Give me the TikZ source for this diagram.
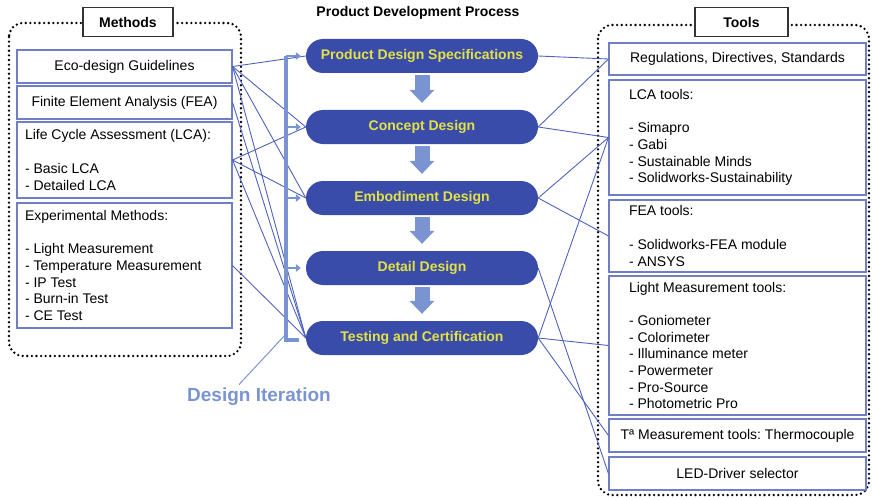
\documentclass[tikz,border=0pt]{standalone}
\usepackage{fontspec}
\setmainfont{Liberation Sans}
\usepackage{tikz}
\usetikzlibrary{positioning, arrows.meta, calc}
\frenchspacing

\definecolor{stageblue}{RGB}{58,76,170}
\definecolor{stageyellow}{RGB}{226,226,70}
\definecolor{iterblue}{RGB}{122,148,210}
\definecolor{linkblue}{RGB}{78,98,188}
\definecolor{boxblue}{RGB}{112,126,198}

\begin{document}
\begin{tikzpicture}[x=1pt, y=-1pt,
    txt/.style={font=\fontsize{14}{16.7}\selectfont},
    mbox/.style={draw=boxblue, line width=1.1pt, fill=white, txt, inner ysep=0pt},
    mcenter/.style={mbox, minimum width=215pt, inner xsep=0pt, align=center},
    mleft/.style={mbox, text width=199pt, inner xsep=8pt, align=flush left},
    tcenter/.style={mbox, minimum width=257pt, inner xsep=0pt, align=center},
    tleft/.style={mbox, text width=217pt, inner xsep=20pt, align=flush left},
    stage/.style={fill=stageblue, rounded corners=17pt, minimum width=232pt, minimum height=34pt,
        inner sep=0pt, text=stageyellow, font=\bfseries\fontsize{14}{16}\selectfont},
    panel/.style={black, line width=2.6pt, dash pattern=on 0pt off 4.6pt, line cap=round, rounded corners=14pt},
    titlebox/.style={draw=black!80, line width=1.1pt, fill=white, minimum height=29pt, inner sep=0pt,
        font=\bfseries\fontsize{14}{16}\selectfont},
    link/.style={linkblue, line width=0.9pt},
    flow/.style={iterblue, line width=15pt, shorten <=2pt, shorten >=7pt,
        -{Triangle[width=25pt, length=13pt, line width=0pt]}},
    iterbar/.style={iterblue, line width=4pt},
    iterarrow/.style={iterblue, line width=2pt, -{Triangle[width=8pt, length=5pt, line width=0pt]}}
]
    \useasboundingbox (0,0) rectangle (872,500);

    % Panels round methods and tools
    \draw[panel] (9,23) rectangle (241,356);
    \draw[panel] (598,25) rectangle (869,495);
    \node[titlebox, minimum width=90pt] (methods) at (128,22) {Methods};
    \node[titlebox, minimum width=93pt] (tools) at (741.5,22) {Tools};
    \node[font=\bfseries\fontsize{14}{16}\selectfont] (title) at (418,13) {Product Development Process};

    % Methods
    \node[mcenter, minimum height=33pt] (eco) at (124.5,66.5) {Eco-design Guidelines};
    \node[mcenter, minimum height=33pt] (fea) at (124.5,102.5) {Finite Element Analysis (FEA)};
    \node[mleft, minimum height=76pt] (lca) at (124.5,160) {Life Cycle Assessment (LCA):\\[16.7pt]
        - Basic LCA\\- Detailed LCA};
    \node[mleft, minimum height=125pt] (exper) at (124.5,265.5) {Experimental Methods:\\[16.7pt]
        - Light Measurement\\- Temperature Measurement\\- IP Test\\- Burn-in Test\\- CE Test};

    % Process stages
    \node[stage] (pds) at (422,56) {Product Design Specifications};
    \node[stage] (concept) at (422,127) {Concept Design};
    \node[stage] (embod) at (422,198) {Embodiment Design};
    \node[stage] (detail) at (422,268) {Detail Design};
    \node[stage] (testing) at (422,338) {Testing and Certification};

    \foreach \a/\b in {pds/concept, concept/embod, embod/detail, detail/testing}
        \draw[flow] (\a.south) -- (\b.north);

    % Tools
    \node[tcenter, minimum height=32pt] (reg) at (737.5,59) {Regulations, Directives, Standards};
    \node[tleft, minimum height=115pt] (lcat) at (737.5,137.5) {LCA tools:\\[16.7pt]
        - Simapro\\- Gabi\\- Sustainable Minds\\- Solidworks-Sustainability};
    \node[tleft, minimum height=72pt] (feat) at (737.5,236) {FEA tools:\\[16.7pt]
        - Solidworks-FEA module\\- ANSYS};
    \node[tleft, minimum height=139pt] (light) at (737.5,345.5) {Light Measurement tools:\\[16.7pt]
        - Goniometer\\- Colorimeter\\- Illuminance meter\\- Powermeter\\- Pro-Source\\- Photometric Pro};
    \node[tcenter, minimum height=33pt] (temp) at (737.5,435.5) {Tª Measurement tools: Thermocouple};
    \node[tcenter, minimum height=33pt] (led) at (737.5,473.5) {LED-Driver selector};

    % Methods to stages
    \foreach \m/\s in {eco/pds, eco/concept, eco/embod, eco/testing, fea/testing,
        lca/concept, lca/embod, lca/testing, exper/testing}
        \draw[link] (\m.east) -- (\s.west);

    % Stages to tools
    \foreach \s/\t in {pds/reg, concept/reg, concept/lcat, embod/lcat, embod/feat,
        testing/lcat, testing/light, testing/temp, detail/led}
        \draw[link] (\s.east) -- (\t.west);

    % Design iteration bracket
    \coordinate (bartop) at (286,56);
    \coordinate (barbot) at (286,340);
    \draw[iterbar] (bartop) -- (barbot) -- ++(13,0);
    \foreach \s in {pds, concept, embod, detail}
        \draw[iterarrow] (bartop |- \s.west) -- ([xshift=-5pt]\s.west);
    \node[font=\bfseries\fontsize{19}{22}\selectfont, text=iterblue] (iterlabel) at (259,397) {Design Iteration};
    \draw[iterblue, line width=1pt] ([xshift=-20pt]iterlabel.north) -- ([yshift=6pt]barbot);
\end{tikzpicture}
\end{document}
